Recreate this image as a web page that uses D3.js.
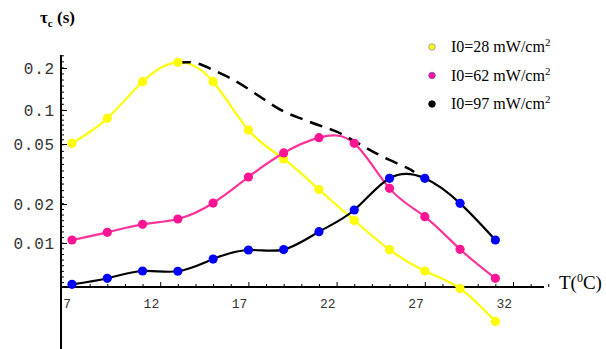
<!DOCTYPE html>
<html>
<head>
<meta charset="utf-8">
<script src="https://cdn.jsdelivr.net/npm/d3@7"></script>
<style>
  html, body { margin: 0; padding: 0; background: #fff; }
  svg { display: block; }
</style>
</head>
<body>
<script>
// ---------------- data ----------------
const temps = [7, 9, 11, 13, 15, 17, 19, 21, 23, 25, 27, 29, 31];
const tau28 = [0.0507, 0.0844, 0.1595, 0.2197, 0.1595, 0.0665, 0.0398, 0.02495, 0.01492, 0.00888, 0.00608, 0.00445, 0.00248];
const tau62 = [0.01055, 0.01209, 0.01394, 0.01532, 0.0203, 0.0302, 0.0436, 0.0569, 0.0507, 0.0254, 0.01596, 0.00894, 0.00534];
const tau97 = [0.0048, 0.00534, 0.00608, 0.00605, 0.00752, 0.00883, 0.0089, 0.01222, 0.01798, 0.0296, 0.0296, 0.0202, 0.01055];
const envelopeT   = [13, 14, 15, 16, 17, 18, 19, 20, 21, 22, 23, 24, 25, 26, 26.4];
const envelopeTau = [0.219, 0.2173, 0.1935, 0.1682, 0.1414, 0.1166, 0.097, 0.0838, 0.0732, 0.0643, 0.0531, 0.0449, 0.0392, 0.0347, 0.0326];
const xTickValues = [7, 12, 17, 22, 27, 32];
const xTickLabels = ["7", "12", "17", "22", "27", "32"];
const yTickValues = [0.2, 0.1, 0.05, 0.02, 0.01];
const yTickLabels = ["0.2", "0.1", "0.05", "0.02", "0.01"];
const seriesNames = ["I0=28 mW/cm", "I0=62 mW/cm", "I0=97 mW/cm"];

// ---------------- layout ----------------
const W = 606, H = 349;
const svg = d3.select("body").append("svg").attr("width", W).attr("height", H);

const x = d3.scaleLinear().domain([7, 32]).range([72, 513]);
const y = d3.scaleLog().domain(yTickValues).range([68, 110, 144, 204, 243]);

const axisX0 = 61, axisY0 = 287, axisXEnd = 544, axisYTop = 55;

// axes lines
svg.append("line").attr("x1", axisX0).attr("x2", axisX0).attr("y1", axisYTop).attr("y2", H)
  .attr("stroke", "#000").attr("stroke-width", 2);
svg.append("line").attr("x1", axisX0).attr("x2", axisXEnd).attr("y1", axisY0).attr("y2", axisY0)
  .attr("stroke", "#000").attr("stroke-width", 2);

// x ticks (pointing up)
const xMinor = d3.range(8, 35).filter(v => !xTickValues.includes(v));
const gx = svg.append("g").attr("transform", `translate(0,${axisY0})`);
gx.call(d3.axisTop(x).tickValues(xMinor).tickSize(3).tickFormat(""));
const gx2 = svg.append("g").attr("transform", `translate(0,${axisY0})`);
gx2.call(d3.axisTop(x).tickValues(xTickValues).tickSize(5).tickFormat(""));
[gx, gx2].forEach(g => { g.select(".domain").remove(); g.selectAll("line").attr("stroke", "#000").attr("stroke-width", 1); });
svg.selectAll("text.xl").data(xTickValues).enter().append("text")
  .attr("class", "xl")
  .attr("x", d => x(d) - 1).attr("y", 308)
  .attr("text-anchor", "end")
  .attr("font-family", "Liberation Mono, monospace").attr("font-size", 13)
  .attr("fill", "#333")
  .text((d, i) => xTickLabels[i]);

// y ticks (pointing right)
const yMinor = d3.range(14, 54).map(k => Math.exp(-k / 10));
const gy = svg.append("g").attr("transform", `translate(${axisX0},0)`);
gy.call(d3.axisRight(y).tickValues(yMinor).tickSize(3).tickFormat(""));
const gy2 = svg.append("g").attr("transform", `translate(${axisX0},0)`);
gy2.call(d3.axisRight(y).tickValues(yTickValues).tickSize(6).tickFormat(""));
[gy, gy2].forEach(g => { g.select(".domain").remove(); g.selectAll("line").attr("stroke", "#000").attr("stroke-width", 1); });
svg.selectAll("text.yl").data(yTickValues).enter().append("text")
  .attr("class", "yl")
  .attr("x", 55).attr("y", d => y(d))
  .attr("dy", "0.35em")
  .attr("text-anchor", "end")
  .attr("font-family", "Liberation Mono, monospace").attr("font-size", 16)
  .attr("letter-spacing", 0.8)
  .attr("fill", "#333")
  .text((d, i) => yTickLabels[i]);

// axis titles
const yt = svg.append("text").attr("x", 40).attr("y", 23)
  .attr("font-family", "Liberation Serif, serif").attr("font-size", 17).attr("font-weight", "bold");
yt.append("tspan").text("τ");
yt.append("tspan").attr("dy", 4).attr("font-size", 11).text("c");
yt.append("tspan").attr("dy", -4).text(" (s)");

const xt = svg.append("text").attr("x", 559).attr("y", 289)
  .attr("font-family", "Liberation Serif, serif").attr("font-size", 19);
xt.append("tspan").text("T(");
xt.append("tspan").attr("dy", -7).attr("font-size", 12).text("0");
xt.append("tspan").attr("dy", 7).text("C)");

// curves
const line = d3.line().x(d => x(d[0])).y(d => y(d[1])).curve(d3.curveNatural);
const series = [
  { vals: tau28, line: "#ffff00", pt: "#ffff00", ptStroke: "#8a8ac8" },
  { vals: tau62, line: "#ff3399", pt: "#ff1493", ptStroke: "#7a50d0" },
  { vals: tau97, line: "#000000", pt: "#0000ff", ptStroke: "#000000" }
];
series.forEach(s => {
  svg.append("path").datum(temps.map((t, i) => [t, s.vals[i]]))
    .attr("d", line).attr("fill", "none").attr("stroke", s.line).attr("stroke-width", 2.2);
});
svg.append("path").datum(envelopeT.map((t, i) => [t, envelopeTau[i]]))
  .attr("d", line).attr("fill", "none").attr("stroke", "#000").attr("stroke-width", 2.5)
  .attr("stroke-dasharray", "13,8");
series.forEach(s => {
  svg.append("g").selectAll("circle").data(temps).enter().append("circle")
    .attr("cx", d => x(d)).attr("cy", (d, i) => y(s.vals[i])).attr("r", 4.6)
    .attr("fill", s.pt);
});

// legend
const leg = svg.append("g");
series.forEach((s, i) => {
  const ly = 47 + i * 28.5;
  leg.append("circle").attr("cx", 432).attr("cy", ly).attr("r", 3.3)
    .attr("fill", i === 2 ? "#000" : s.pt).attr("stroke", s.ptStroke).attr("stroke-width", 0.8);
  const t = leg.append("text").attr("x", 451).attr("y", ly + 5)
    .attr("font-family", "Liberation Serif, serif").attr("font-size", 16).attr("fill", "#000");
  t.append("tspan").text(seriesNames[i]);
  t.append("tspan").attr("dy", -6).attr("font-size", 11).text("2");
});
</script>
</body>
</html>
